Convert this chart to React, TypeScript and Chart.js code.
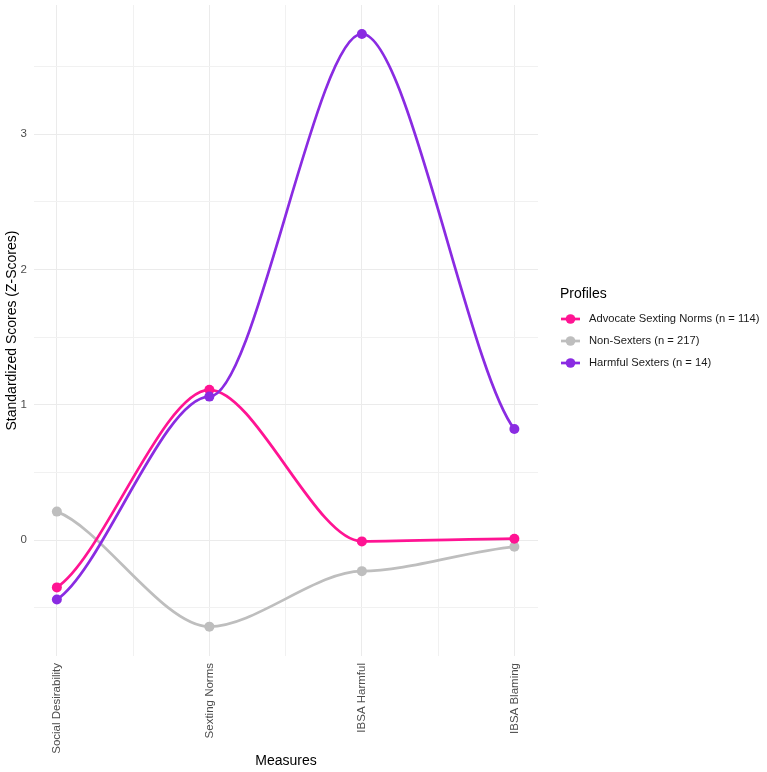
import React, { useEffect, useRef } from 'react';
import { Chart, registerables } from 'chart.js';

Chart.register(...registerables);

// Measures along the x axis (positions 1..4)
const measures = ['Social Desirability', 'Sexting Norms', 'IBSA Harmful', 'IBSA Blaming'];

// Standardized (z) scores per latent profile
const advocateScores = [-0.35, 1.11, -0.01, 0.01];
const nonSexterScores = [0.21, -0.64, -0.23, -0.05];
const harmfulScores = [-0.44, 1.06, 3.74, 0.82];

const profileLabels = [
  'Advocate Sexting Norms (n = 114)',
  'Non-Sexters (n = 217)',
  'Harmful Sexters (n = 14)',
];
const profileColors = ['#FF1493', '#BEBEBE', '#8A2BE2'];

// Grid positions: integers carry labels, halves are minor lines
const yTickValues = [-0.5, 0, 0.5, 1, 1.5, 2, 2.5, 3, 3.5];
const xTickValues = [1, 1.5, 2, 2.5, 3, 3.5, 4];

const FONT = '"Liberation Sans", Arial, Helvetica, sans-serif';

const toPoints = (vals: number[]) => vals.map((v, i) => ({ x: i + 1, y: v }));

// Smooth curve through the points: flat tangents at interior points,
// a softened secant slope at the two ends.
const K = 0.3;
const END = 0.5;
const smoothCurve = {
  id: 'smoothCurve',
  beforeDatasetsDraw(chart: any) {
    chart.getSortedVisibleDatasetMetas().forEach((meta: any) => {
      const line = meta.dataset;
      if (!line) return;
      line.updateControlPoints(chart.chartArea, 'x');
      const pts = meta.data;
      for (let i = 0; i < pts.length; i++) {
        const p = pts[i];
        const prev = pts[i - 1];
        const next = pts[i + 1];
        if (prev) {
          const dx = p.x - prev.x;
          const slope = next ? 0 : (END * (p.y - prev.y)) / dx;
          p.cp1x = p.x - dx * K;
          p.cp1y = p.y - slope * dx * K;
        }
        if (next) {
          const dx = next.x - p.x;
          const slope = prev ? 0 : (END * (next.y - p.y)) / dx;
          p.cp2x = p.x + dx * K;
          p.cp2y = p.y + slope * dx * K;
        }
      }
    });
  },
};

// Legend on the right side
const profileLegend = {
  id: 'profileLegend',
  afterDraw(chart: any) {
    const ctx = chart.ctx;
    ctx.save();
    ctx.textBaseline = 'middle';
    ctx.textAlign = 'left';
    ctx.fillStyle = '#000000';
    ctx.font = `14px ${FONT}`;
    ctx.fillText('Profiles', 560, 294);
    profileLabels.forEach((label, i) => {
      const y = 319 + i * 22;
      ctx.strokeStyle = profileColors[i];
      ctx.lineWidth = 2.7;
      ctx.beginPath();
      ctx.moveTo(561, y);
      ctx.lineTo(580, y);
      ctx.stroke();
      ctx.fillStyle = profileColors[i];
      ctx.beginPath();
      ctx.arc(570.5, y, 4.8, 0, Math.PI * 2);
      ctx.fill();
      ctx.fillStyle = '#1a1a1a';
      ctx.font = `11.2px ${FONT}`;
      ctx.fillText(label, 589, y);
    });
    ctx.restore();
  },
};

export default function App() {
  const canvasRef = useRef<HTMLCanvasElement | null>(null);

  useEffect(() => {
    if (!canvasRef.current) return;
    const series = [advocateScores, nonSexterScores, harmfulScores];
    const drawOrder = [1, 2, 0];
    const chart = new Chart(canvasRef.current, {
      type: 'line',
      data: {
        datasets: series.map((vals, i) => ({
          label: profileLabels[i],
          data: toPoints(vals),
          borderColor: profileColors[i],
          backgroundColor: profileColors[i],
          pointBackgroundColor: profileColors[i],
          pointBorderWidth: 0,
          pointRadius: 5,
          borderWidth: 2.7,
          tension: 0.4,
          fill: false,
          order: drawOrder[i],
        })),
      },
      options: {
        responsive: false,
        animation: false,
        layout: { padding: { top: 5, right: 229, left: 0, bottom: 0 } },
        plugins: {
          legend: { display: false },
          tooltip: { enabled: false },
        },
        scales: {
          x: {
            type: 'linear',
            min: 0.85,
            max: 4.155,
            border: { display: false },
            grid: {
              drawTicks: false,
              color: (c: any) => (Number.isInteger(c.tick?.value) ? '#ebebeb' : '#f1f1f1'),
              lineWidth: 1,
            },
            afterBuildTicks: (scale: any) => {
              scale.ticks = xTickValues.map((v) => ({ value: v }));
            },
            afterFit: (scale: any) => {
              scale.height = 116;
              scale.paddingLeft = 0;
              scale.paddingRight = 0;
            },
            ticks: {
              autoSkip: false,
              minRotation: 90,
              maxRotation: 90,
              padding: 7,
              color: '#4d4d4d',
              font: { family: FONT, size: 11.5 },
              callback: (v: any) => (Number.isInteger(v) ? measures[v - 1] : ''),
            },
            title: {
              display: true,
              text: 'Measures',
              color: '#000000',
              font: { family: FONT, size: 14 },
              padding: { top: 2, bottom: 2 },
            },
          },
          y: {
            type: 'linear',
            min: -0.857,
            max: 3.954,
            border: { display: false },
            grid: {
              drawTicks: false,
              color: (c: any) => (Number.isInteger(c.tick?.value) ? '#ebebeb' : '#f1f1f1'),
              lineWidth: 1,
            },
            afterBuildTicks: (scale: any) => {
              scale.ticks = yTickValues.map((v) => ({ value: v }));
            },
            afterFit: (scale: any) => {
              scale.width = 34;
              scale.paddingTop = 0;
              scale.paddingBottom = 0;
            },
            ticks: {
              padding: 7,
              color: '#4d4d4d',
              font: { family: FONT, size: 11.5 },
              callback: (v: any) => (Number.isInteger(v) ? String(v) : ''),
            },
            title: {
              display: true,
              text: 'Standardized Scores (Z-Scores)',
              color: '#000000',
              font: { family: FONT, size: 14 },
              padding: { top: 4, bottom: 4 },
            },
          },
        },
      },
      plugins: [smoothCurve, profileLegend],
    } as any);
    return () => chart.destroy();
  }, []);

  return (
    <div style={{ position: 'fixed', left: 0, top: 0, width: 767, height: 772, background: '#ffffff' }}>
      <canvas ref={canvasRef} width={767} height={772} style={{ display: 'block' }} />
    </div>
  );
}
